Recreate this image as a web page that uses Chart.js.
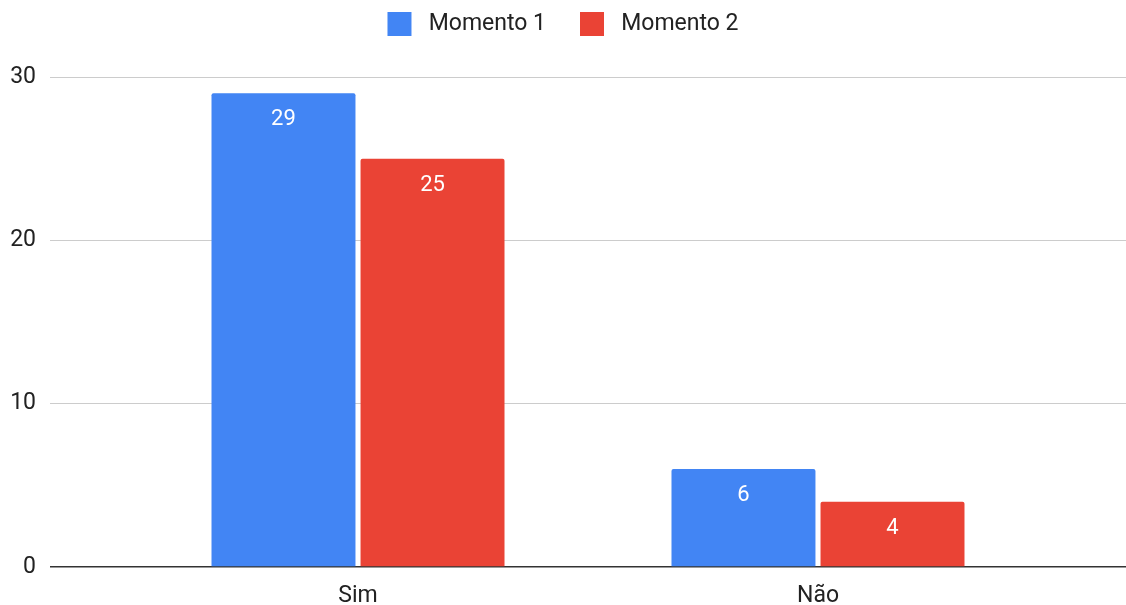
<!DOCTYPE html>
<html>
<head>
<meta charset="utf-8">
<script src="https://cdn.jsdelivr.net/npm/chart.js@4/dist/chart.umd.min.js"></script>
<style>
  html, body { margin: 0; padding: 0; background: #fff; }
  #wrap { width: 1126px; height: 605px; }
</style>
</head>
<body>
<div id="wrap"><canvas id="chart"></canvas></div>
<script>
const categories = ['Sim', 'Não']
const momento1 = [29, 6]
const momento2 = [25, 4]
const seriesNames = ['Momento 1', 'Momento 2']
const yTicks = [0, 10, 20, 30]

const FONT = 'Roboto'

// bars sit on a linear index scale so the categories can be spaced like the original
const toPoints = values => values.map((v, i) => ({ x: i, y: v }))

const barLabels = {
  id: 'barLabels',
  afterDatasetsDraw(chart) {
    const ctx = chart.ctx
    ctx.save()
    ctx.fillStyle = '#ffffff'
    ctx.font = '22px ' + FONT
    ctx.textAlign = 'center'
    ctx.textBaseline = 'middle'
    chart.data.datasets.forEach((ds, di) => {
      chart.getDatasetMeta(di).data.forEach((bar, i) => {
        ctx.fillText(String(ds.data[i].y), bar.x, bar.y + 26.5)
      })
    })
    ctx.restore()
  }
}

// keep the legend short so the plot starts where it does in the reference
const legendHeight = {
  id: 'legendHeight',
  afterInit(chart) {
    const legend = chart.legend
    const fit = legend.fit
    legend.fit = function () {
      fit.call(this)
      this.height = 99
    }
  }
}

const ctx = document.getElementById('chart').getContext('2d')

const myChart = new Chart(ctx, {
  type: 'bar',
  data: {
    datasets: [{
      label: seriesNames[0],
      data: toPoints(momento1),
      backgroundColor: '#4285F4',
      borderRadius: { topLeft: 2, topRight: 2 },
      borderSkipped: 'start'
    }, {
      label: seriesNames[1],
      data: toPoints(momento2),
      backgroundColor: '#EA4335',
      borderRadius: { topLeft: 2, topRight: 2 },
      borderSkipped: 'start'
    }]
  },
  options: {
    responsive: true,
    maintainAspectRatio: false,
    animation: false,
    categoryPercentage: 0.648,
    barPercentage: 0.966,
    layout: {
      padding: { top: -22, left: 0, right: 0, bottom: 0 }
    },
    scales: {
      x: {
        type: 'linear',
        offset: false,
        min: -0.6696,
        max: 1.6696,
        grid: { display: false, offset: false },
        border: { display: false },
        afterBuildTicks(scale) {
          scale.ticks = categories.map((c, i) => ({ value: i }))
        },
        afterFit(scale) {
          scale.height = 38
        },
        ticks: {
          padding: 7,
          color: '#222',
          font: { family: FONT, size: 23 },
          maxRotation: 0,
          callback: value => categories[value]
        }
      },
      y: {
        min: 0,
        max: 30,
        afterBuildTicks(scale) {
          scale.ticks = yTicks.map(v => ({ value: v }))
        },
        afterFit(scale) {
          scale.width = 50
        },
        grid: {
          drawTicks: false,
          color: c => c.tick && c.tick.value === 0 ? '#333333' : '#cccccc',
          lineWidth: c => c.tick && c.tick.value === 0 ? 1.5 : 1
        },
        border: { display: false },
        ticks: {
          padding: 14,
          color: '#222',
          font: { family: FONT, size: 23 }
        }
      }
    },
    plugins: {
      legend: {
        position: 'top',
        labels: {
          boxWidth: 24,
          boxHeight: 24,
          padding: 34,
          color: '#222',
          font: { family: FONT, size: 23 },
          generateLabels(chart) {
            // a leading space widens the gap between swatch and text
            return Chart.defaults.plugins.legend.labels.generateLabels(chart)
              .map(item => Object.assign(item, { text: ' ' + item.text, lineWidth: 0 }))
          }
        }
      },
      tooltip: { enabled: false }
    }
  },
  plugins: [barLabels, legendHeight]
})
</script>
</body>
</html>
